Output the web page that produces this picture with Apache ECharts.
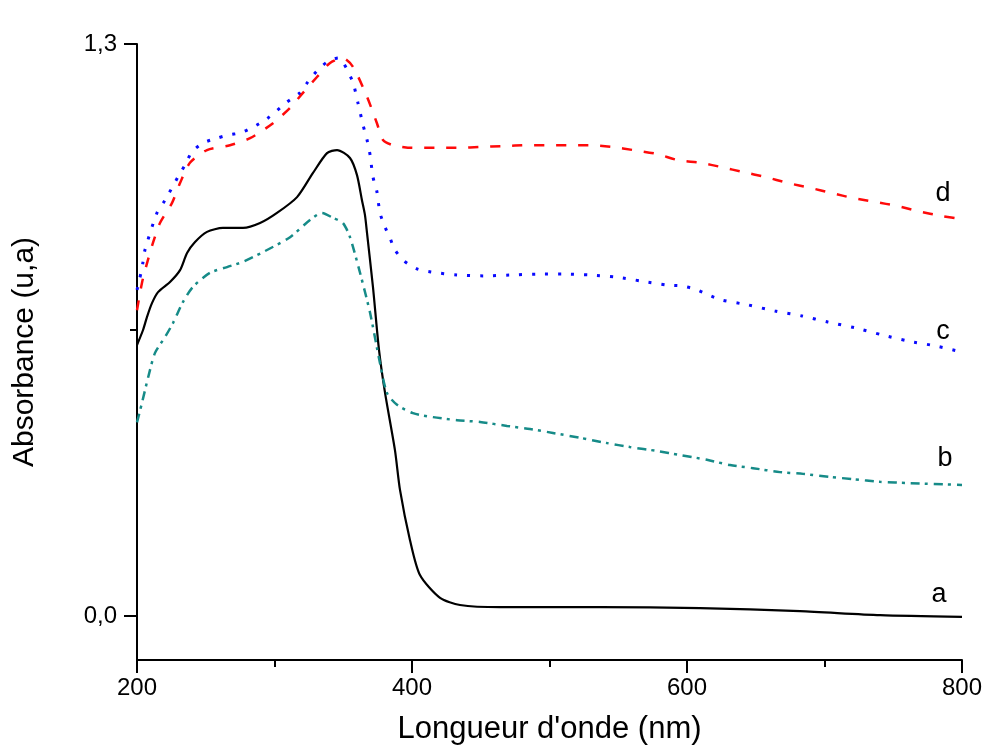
<!DOCTYPE html>
<html>
<head>
<meta charset="utf-8">
<script src="https://cdn.jsdelivr.net/npm/echarts@6/dist/echarts.min.js"></script>
<style>
  html, body { margin: 0; padding: 0; background: #fff; }
  #chart { width: 995px; height: 751px; }
</style>
</head>
<body>
<div id="chart"></div>
<script>
// UV-visible absorbance spectra of four samples (a, b, c, d)

// Sample a (solid black)
const wavelengthA = [200, 204.4, 207.3, 210.9, 215.3, 224.0, 231.3, 236.4, 242.2, 250.9, 262.5, 277.1, 289.5, 301.8, 316.4, 328.0, 338.2, 345.5, 354.9, 360.0, 363.6, 365.8, 367.3, 371.6, 376.0, 380.4, 387.6, 391.3, 398.5, 405.8, 420.4, 434.9, 464.0, 536.7, 609.5, 682.2, 740.4, 800];
const absorbanceA = [0.616, 0.650, 0.680, 0.711, 0.736, 0.759, 0.786, 0.825, 0.850, 0.873, 0.882, 0.882, 0.893, 0.916, 0.952, 1.007, 1.052, 1.059, 1.041, 1.002, 0.945, 0.911, 0.870, 0.748, 0.605, 0.507, 0.377, 0.286, 0.173, 0.093, 0.041, 0.025, 0.020, 0.020, 0.018, 0.011, 0.002, -0.002];

// Sample b (teal dash-dot)
const wavelengthB = [200, 203.6, 208.0, 213.1, 220.4, 226.2, 233.5, 240.7, 253.1, 265.5, 277.1, 291.6, 311.3, 325.8, 334.5, 342.5, 349.8, 354.9, 362.2, 369.5, 376.7, 381.8, 389.1, 400.7, 415.3, 432.7, 449.5, 469.1, 485.8, 502.5, 522.2, 541.8, 558.5, 578.2, 594.9, 614.5, 631.3, 648.0, 667.6, 684.4, 704.0, 720.7, 740.4, 762.2, 800];
const absorbanceB = [0.440, 0.484, 0.541, 0.598, 0.634, 0.666, 0.714, 0.748, 0.780, 0.793, 0.805, 0.827, 0.861, 0.900, 0.916, 0.905, 0.893, 0.861, 0.780, 0.689, 0.575, 0.507, 0.480, 0.461, 0.452, 0.445, 0.441, 0.432, 0.425, 0.416, 0.405, 0.393, 0.384, 0.375, 0.366, 0.355, 0.343, 0.336, 0.327, 0.323, 0.316, 0.311, 0.305, 0.302, 0.298];

// Sample c (blue dotted)
const wavelengthC = [200, 202.9, 204.4, 205.8, 214.5, 220.4, 229.8, 234.9, 240.0, 248.0, 258.2, 266.2, 274.9, 284.4, 294.5, 309.1, 318.5, 323.6, 330.9, 338.2, 346.2, 356.4, 360.7, 364.4, 367.3, 369.5, 371.6, 374.5, 376.7, 380.4, 384.0, 387.6, 394.2, 403.6, 413.8, 432.7, 452.4, 471.3, 490.9, 509.8, 529.5, 549.1, 567.3, 586.2, 596.4, 605.8, 615.3, 625.5, 644.4, 664.0, 683.6, 702.5, 722.2, 741.8, 760.7, 780.4, 800];
const absorbanceC = [0.741, 0.780, 0.805, 0.832, 0.916, 0.945, 0.998, 1.025, 1.055, 1.075, 1.086, 1.093, 1.098, 1.111, 1.130, 1.168, 1.189, 1.211, 1.239, 1.259, 1.268, 1.218, 1.166, 1.116, 1.082, 1.048, 0.998, 0.964, 0.916, 0.884, 0.859, 0.832, 0.807, 0.789, 0.782, 0.775, 0.773, 0.775, 0.777, 0.777, 0.775, 0.770, 0.761, 0.752, 0.750, 0.743, 0.730, 0.718, 0.707, 0.693, 0.682, 0.668, 0.655, 0.639, 0.625, 0.614, 0.600];

// Sample d (red dashed)
const wavelengthD = [200, 203.6, 207.3, 211.6, 216.7, 225.5, 231.3, 238.5, 250.9, 267.6, 282.2, 298.9, 311.3, 320.7, 330.9, 340.4, 349.8, 357.1, 367.3, 374.5, 378.9, 386.2, 400.7, 418.2, 434.9, 449.5, 466.2, 483.6, 498.2, 514.9, 529.5, 546.2, 560.7, 578.2, 593.5, 609.5, 625.5, 640.7, 656.7, 673.5, 689.5, 705.5, 720.7, 736.7, 752.7, 768.0, 785.5, 800];
const absorbanceD = [0.695, 0.757, 0.802, 0.848, 0.893, 0.939, 0.984, 1.030, 1.059, 1.070, 1.086, 1.120, 1.155, 1.189, 1.225, 1.257, 1.268, 1.248, 1.180, 1.120, 1.082, 1.070, 1.064, 1.064, 1.064, 1.066, 1.068, 1.070, 1.070, 1.070, 1.070, 1.066, 1.059, 1.050, 1.036, 1.030, 1.020, 1.009, 0.998, 0.984, 0.973, 0.961, 0.950, 0.941, 0.932, 0.920, 0.909, 0.902];

// Axis ticks
const xTickLabels = [200, 400, 600, 800];
const yTickLabels = [0, 1.3];
const yMinorTicks = [0.65];

const FONT = 'Liberation Sans, Arial, sans-serif';

function pairs(xs, ys) {
  return xs.map((x, i) => [x, ys[i]]);
}

const seriesDefs = [
  { name: 'a', x: wavelengthA, y: absorbanceA, color: '#000000', width: 2.2, dash: 'solid', labelOffset: [-23, -22] },
  { name: 'b', x: wavelengthB, y: absorbanceB, color: '#168b88', width: 2.5, dash: [9, 5, 3, 6], labelOffset: [-17, -26] },
  { name: 'c', x: wavelengthC, y: absorbanceC, color: '#0a0aff', width: 3, dash: [3, 10], labelOffset: [-19, -20] },
  { name: 'd', x: wavelengthD, y: absorbanceD, color: '#ff0a0a', width: 2.5, dash: [10, 12], labelOffset: [-19, -26] }
];

const chart = echarts.init(document.getElementById('chart'), null, { renderer: 'canvas' });

const axisLineStyle = { color: '#000', width: 2 };

chart.setOption({
  animation: false,
  backgroundColor: '#fff',
  grid: { left: 137, right: 33, top: 44, bottom: 91, containLabel: false },
  xAxis: {
    type: 'value',
    min: 200,
    max: 800,
    interval: 200,
    name: "Longueur d'onde (nm)",
    nameLocation: 'middle',
    nameGap: 54,
    nameTextStyle: { fontFamily: FONT, fontSize: 31, color: '#000' },
    axisLine: { show: true, onZero: false, lineStyle: axisLineStyle },
    axisTick: { show: true, length: 13, lineStyle: axisLineStyle },
    minorTick: { show: true, splitNumber: 2, length: 7, lineStyle: axisLineStyle },
    axisLabel: {
      customValues: xTickLabels,
      fontFamily: FONT, fontSize: 24, color: '#000', margin: 16
    },
    splitLine: { show: false },
    minorSplitLine: { show: false }
  },
  yAxis: [
    {
      type: 'value',
      min: -0.1,
      max: 1.3,
      position: 'left',
      name: 'Absorbance (u,a)',
      nameLocation: 'middle',
      nameGap: 97,
      nameTextStyle: { fontFamily: FONT, fontSize: 30, color: '#000' },
      axisLine: { show: true, onZero: false, lineStyle: axisLineStyle },
      axisTick: { show: true, customValues: yTickLabels, length: 13, lineStyle: axisLineStyle },
      axisLabel: {
        customValues: yTickLabels,
        formatter: v => v.toFixed(1).replace('.', ','),
        fontFamily: FONT, fontSize: 24, color: '#000', margin: 20
      },
      splitLine: { show: false }
    },
    {
      type: 'value',
      min: -0.1,
      max: 1.3,
      position: 'left',
      axisLine: { show: false, onZero: false },
      axisTick: { show: true, customValues: yMinorTicks, length: 7, lineStyle: axisLineStyle },
      axisLabel: { show: false },
      splitLine: { show: false }
    }
  ],
  series: seriesDefs.map(s => ({
    name: s.name,
    type: 'line',
    yAxisIndex: 0,
    data: pairs(s.x, s.y),
    showSymbol: false,
    smooth: 0.25,
    lineStyle: { color: s.color, width: s.width, type: s.dash, cap: 'butt' },
    z: 3
  }))
});

// Curve letters placed just above the right-hand end of each spectrum
const letters = seriesDefs.map(s => {
  const last = s.x.length - 1;
  const p = chart.convertToPixel({ gridIndex: 0 }, [s.x[last], s.y[last]]);
  return {
    type: 'text',
    x: p[0] + s.labelOffset[0],
    y: p[1] + s.labelOffset[1],
    style: {
      text: s.name,
      fontFamily: FONT,
      fontSize: 27,
      fill: '#000',
      align: 'center',
      verticalAlign: 'middle'
    },
    z: 10
  };
});
chart.setOption({ graphic: letters });
</script>
</body>
</html>
